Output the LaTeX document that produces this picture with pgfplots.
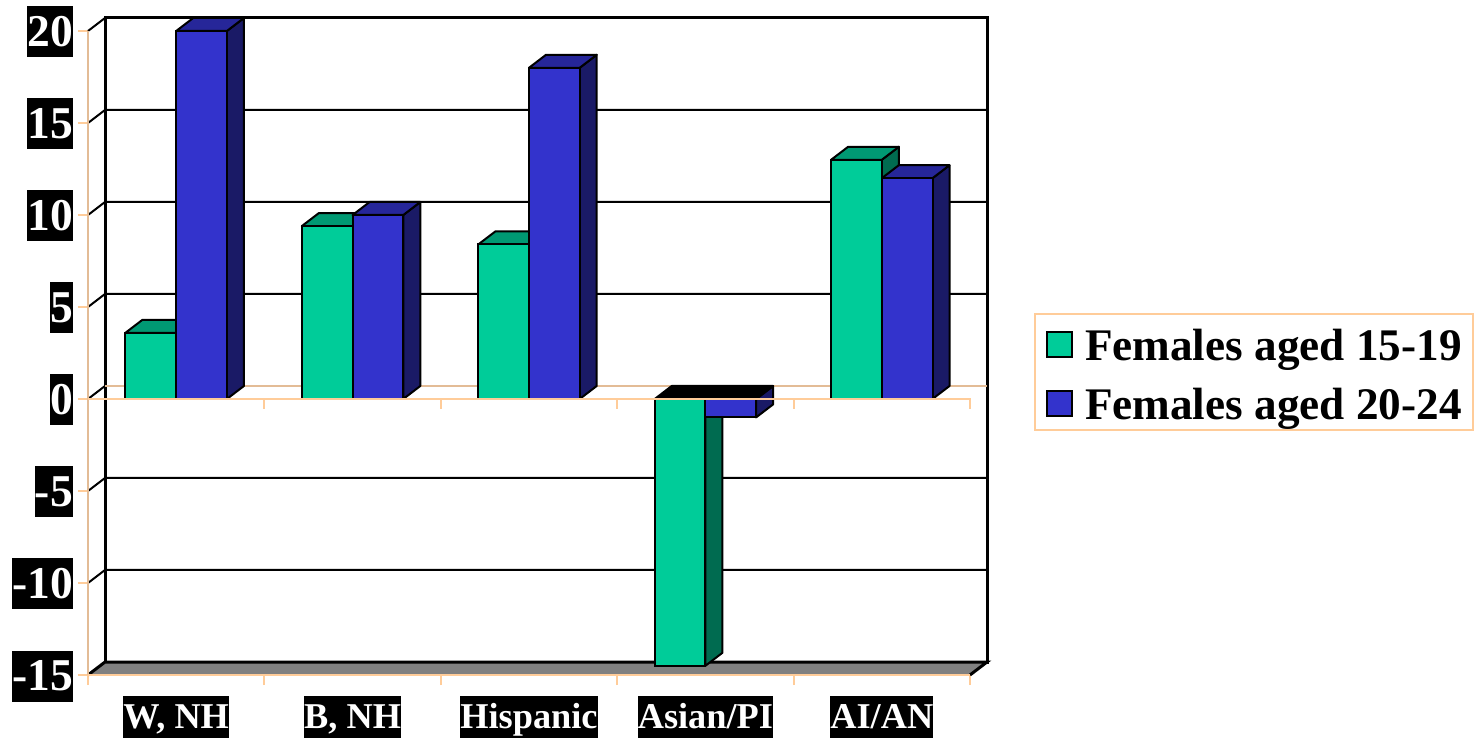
\documentclass[border=0pt]{standalone}
\usepackage{pgfplots}
\pgfplotsset{compat=1.18}
\usepackage{fontspec}
\setmainfont{Liberation Serif}
\definecolor{gfront}{HTML}{00CC99}
\definecolor{gside}{HTML}{006B50}
\definecolor{gtop}{HTML}{009973}
\definecolor{bfront}{HTML}{3333CC}
\definecolor{bside}{HTML}{1A1A66}
\definecolor{btop}{HTML}{262699}
\definecolor{axo}{HTML}{FFCC99}
\definecolor{axt}{HTML}{E3BC96}
\definecolor{floorg}{HTML}{808080}
\pgfplotsset{
  face/.style={line width=2pt,draw=black,line join=round,forget plot},
  wall/.style={line width=2pt,draw=black,forget plot},
  oline/.style={line width=2pt,draw=axo,forget plot},
  squareleg/.style={legend image code/.code={\draw[##1,line width=2pt] (0pt,-14.5pt) rectangle (25pt,10.5pt);}},
}
\begin{document}
\begin{tikzpicture}[x=1pt,y=1pt]
\path[use as bounding box] (0,0) rectangle (1475,739);
\begin{axis}[
  at={(88pt,64pt)},anchor=south west,
  scale only axis,width=899pt,height=657pt,
  xmin=-0.5,xmax=4.5964,ymin=-15,ymax=20.7065,
  clip=false,
  axis x line*=bottom,axis y line*=left,
  axis line style={draw=none},
  tick align=outside,
  major tick length=10pt,
  tick style={draw=axo,line width=2pt},
  xtick={-0.5,0.5,1.5,2.5,3.5,4.5},xticklabels={},
  extra x ticks={0,1,2,3,4},
  extra x tick labels={{W, NH},{B, NH},Hispanic,Asian/PI,AI/AN},
  extra x tick style={major tick length=0pt,
    x tick label style={font=\fontsize{36.3}{36.3}\selectfont\bfseries,text=white,fill=black,
      inner xsep=0pt,inner ysep=0pt,text height=32pt,text depth=10pt,anchor=north,yshift=-21pt}},
  ytick={-15,-10,-5,0,5,10,15,20},
  yticklabels={-15,-10,-5,0,5,10,15,20},
  y tick label style={font=\fontsize{45.5}{45.5}\selectfont\bfseries,text=white,fill=black,
    inner xsep=0pt,inner ysep=0pt,text height=40pt,text depth=11pt,anchor=east,xshift=-5pt,yshift=-1pt},
  legend style={at={(1.0523,0.551)},anchor=north west,draw=axo,line width=2pt,fill=white,
    font=\fontsize{45.2}{45.2}\selectfont\bfseries,legend cell align=left,
    inner xsep=11pt,inner ysep=6pt,row sep=14pt,
    /tikz/every odd column/.append style={column sep=12pt},
    nodes={inner sep=0pt,text height=41pt,text depth=4pt}},
]
% back wall
\addplot[fill=white,wall,line width=3pt] coordinates {(-0.4036,-14.2935)(-0.4036,20.7065)(4.5964,20.7065)(4.5964,-14.2935)} -- cycle;
% floor
\addplot[fill=floorg,wall,line width=3pt] coordinates {(-0.5,-15)(-0.4036,-14.2935)(4.5964,-14.2935)(4.5,-15)};
% grid lines
\addplot[wall] coordinates {(-0.5,20)(-0.4036,20.7065)};
\addplot[wall] coordinates {(-0.5,15)(-0.4036,15.7065)(4.5964,15.7065)};
\addplot[wall] coordinates {(-0.5,10)(-0.4036,10.7065)(4.5964,10.7065)};
\addplot[wall] coordinates {(-0.5,5)(-0.4036,5.7065)(4.5964,5.7065)};
\addplot[wall] coordinates {(-0.5,0)(-0.4036,0.7065)};
\addplot[wall] coordinates {(-0.5,-5)(-0.4036,-4.2935)(4.5964,-4.2935)};
\addplot[wall] coordinates {(-0.5,-10)(-0.4036,-9.2935)(4.5964,-9.2935)};
% back zero line
\addplot[oline,draw=axt] coordinates {(-0.4036,0.7065)(4.5964,0.7065)};
% W, NH
\addplot[fill=gside,face] coordinates {(0,0)(0.0964,0.7065)(0.0964,4.3065)(0,3.6)} -- cycle;
\addplot[fill=gtop,face] coordinates {(-0.2874,3.6)(-0.191,4.3065)(0.0964,4.3065)(0,3.6)} -- cycle;
\addplot[fill=bside,face] coordinates {(0.2874,0)(0.3838,0.7065)(0.3838,20.7065)(0.2874,20)} -- cycle;
\addplot[fill=btop,face] coordinates {(0,20)(0.0964,20.7065)(0.3838,20.7065)(0.2874,20)} -- cycle;
% B, NH
\addplot[fill=gside,face] coordinates {(1,0)(1.0964,0.7065)(1.0964,10.1065)(1,9.4)} -- cycle;
\addplot[fill=gtop,face] coordinates {(0.7126,9.4)(0.809,10.1065)(1.0964,10.1065)(1,9.4)} -- cycle;
\addplot[fill=bside,face] coordinates {(1.2874,0)(1.3838,0.7065)(1.3838,10.7065)(1.2874,10)} -- cycle;
\addplot[fill=btop,face] coordinates {(1,10)(1.0964,10.7065)(1.3838,10.7065)(1.2874,10)} -- cycle;
% Hispanic
\addplot[fill=gside,face] coordinates {(2,0)(2.0964,0.7065)(2.0964,9.1065)(2,8.4)} -- cycle;
\addplot[fill=gtop,face] coordinates {(1.7126,8.4)(1.809,9.1065)(2.0964,9.1065)(2,8.4)} -- cycle;
\addplot[fill=bside,face] coordinates {(2.2874,0)(2.3838,0.7065)(2.3838,18.7065)(2.2874,18)} -- cycle;
\addplot[fill=btop,face] coordinates {(2,18)(2.0964,18.7065)(2.3838,18.7065)(2.2874,18)} -- cycle;
% Asian/PI
\addplot[fill=gside,face] coordinates {(3,0)(3.0964,0.7065)(3.0964,-13.7935)(3,-14.5)} -- cycle;
\addplot[fill=bside,face] coordinates {(3.2874,0)(3.3838,0.7065)(3.3838,-0.2935)(3.2874,-1)} -- cycle;
\addplot[fill=black,face] coordinates {(2.7126,0)(2.809,0.7065)(3.3838,0.7065)(3.2874,0)} -- cycle;
% AI/AN
\addplot[fill=gside,face] coordinates {(4,0)(4.0964,0.7065)(4.0964,13.7065)(4,13)} -- cycle;
\addplot[fill=gtop,face] coordinates {(3.7126,13)(3.809,13.7065)(4.0964,13.7065)(4,13)} -- cycle;
\addplot[fill=bside,face] coordinates {(4.2874,0)(4.3838,0.7065)(4.3838,12.7065)(4.2874,12)} -- cycle;
\addplot[fill=btop,face] coordinates {(4,12)(4.0964,12.7065)(4.3838,12.7065)(4.2874,12)} -- cycle;
% front faces
\addplot[ybar,bar width=50.7pt,bar shift=-25.35pt,fill=gfront,draw=black,line width=2pt,squareleg]
  coordinates {(0,3.6)(1,9.4)(2,8.4)(3,-14.5)(4,13)};
\addlegendentry{Females aged 15-19}
\addplot[ybar,bar width=50.7pt,bar shift=25.35pt,fill=bfront,draw=black,line width=2pt,squareleg]
  coordinates {(0,20)(1,10)(2,18)(3,-1)(4,12)};
\addlegendentry{Females aged 20-24}
% front axes
\addplot[oline,draw=axt] coordinates {(-0.5,20)(-0.5,-15)};
\addplot[oline] coordinates {(-0.5,-15)(4.5,-15)};
\addplot[oline] coordinates {(-0.5,0)(0.5,0)(0.5,-0.54)(0.5,0)(1.5,0)(1.5,-0.54)(1.5,0)(2.5,0)(2.5,-0.54)(2.5,0)(3.5,0)(3.5,-0.54)(3.5,0)(4.5,0)(4.5,-0.54)};
\end{axis}
\end{tikzpicture}
\end{document}
